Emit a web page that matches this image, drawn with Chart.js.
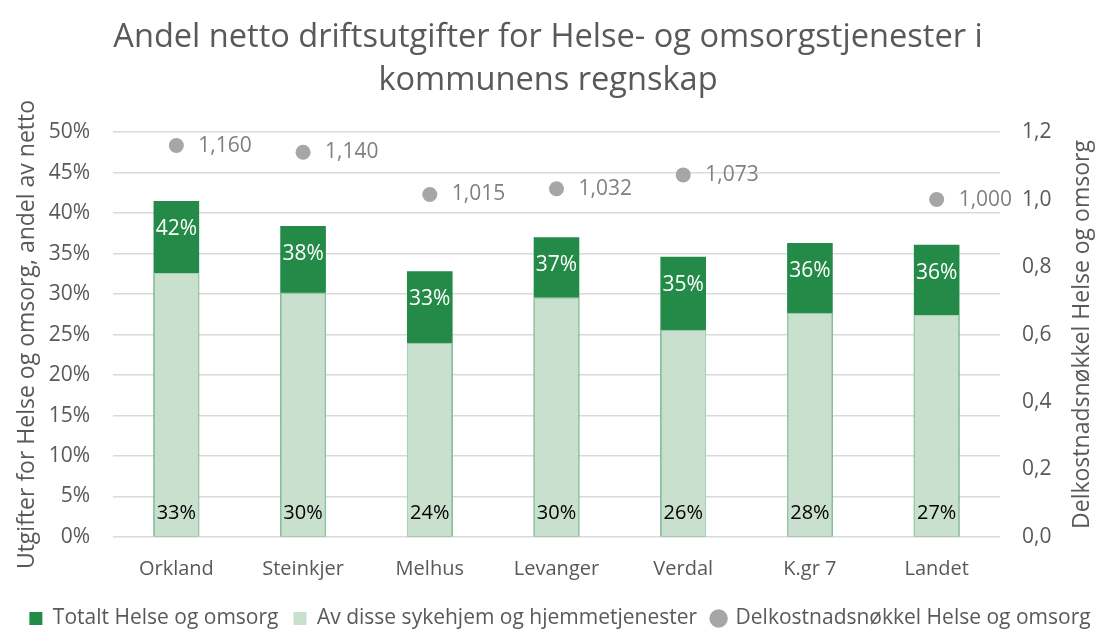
<!DOCTYPE html>
<html>
<head>
<meta charset="utf-8">
<script src="https://cdn.jsdelivr.net/npm/chart.js@4.4.0/dist/chart.umd.min.js"></script>
<style>
  html, body { margin: 0; padding: 0; background: #fff; }
  #wrap { width: 1096px; height: 630px; }
</style>
</head>
<body>
<div id="wrap"><canvas id="helseChart"></canvas></div>
<script>
// Data lest av fra figuren
const kommuner = ['Orkland', 'Steinkjer', 'Melhus', 'Levanger', 'Verdal', 'K.gr 7', 'Landet'];
const totaltHelse = [41.5, 38.4, 32.8, 37.0, 34.6, 36.3, 36.1];
const sykehjemHjemme = [32.6, 30.2, 24.0, 29.6, 25.6, 27.7, 27.4];
const delkostnadsnokkel = [1.160, 1.140, 1.015, 1.032, 1.073, null, 1.000];

const FONT = "'Open Sans', sans-serif";
const GRAA = '#595959';
const HOYRE_TITTEL = 'Delkostnadsnøkkel Helse og omsorg';

// Tegner dataetiketter (ingen datalabels-plugin tilgjengelig)
const verdiEtiketter = {
    id: 'verdiEtiketter',
    afterLayout(chart) {
        // Forklaringen står litt til høyre i originalen
        if (chart.legend) {
            chart.legend.left += 12;
            chart.legend.right += 12;
        }
    },
    afterDatasetsDraw(chart) {
        const ctx = chart.ctx;
        ctx.save();
        ctx.textBaseline = 'middle';

        // Totalt: hvit tekst innerst ved toppen
        ctx.font = '21px ' + FONT;
        ctx.fillStyle = '#ffffff';
        ctx.textAlign = 'center';
        chart.getDatasetMeta(0).data.forEach((bar, i) => {
            ctx.fillText(Math.round(totaltHelse[i]) + '%', bar.x, bar.y + 28);
        });

        // Sykehjem/hjemmetjenester: svart tekst ved basis
        ctx.font = '20px ' + FONT;
        ctx.fillStyle = '#000000';
        chart.getDatasetMeta(1).data.forEach((bar, i) => {
            ctx.fillText(Math.round(sykehjemHjemme[i]) + '%', bar.x, bar.base - 23);
        });

        // Delkostnadsnøkkel: grå tekst til høyre for punktet
        ctx.font = '21px ' + FONT;
        ctx.fillStyle = '#808080';
        ctx.textAlign = 'left';
        chart.getDatasetMeta(2).data.forEach((pt, i) => {
            if (delkostnadsnokkel[i] == null) return;
            ctx.fillText(delkostnadsnokkel[i].toFixed(3).replace('.', ','), pt.x + 22, pt.y);
        });

        // Høyre aksetittel, lest nedenfra og opp som i Excel
        const area = chart.chartArea;
        ctx.translate(1082, (area.top + area.bottom) / 2);
        ctx.rotate(-Math.PI / 2);
        ctx.font = '23px ' + FONT;
        ctx.fillStyle = GRAA;
        ctx.textAlign = 'center';
        ctx.fillText(HOYRE_TITTEL, 0, 0);
        ctx.restore();
    }
};

const standardLabels = Chart.defaults.plugins.legend.labels.generateLabels;

new Chart(document.getElementById('helseChart'), {
    type: 'bar',
    data: {
        labels: kommuner,
        datasets: [
            {
                label: 'Totalt Helse og omsorg',
                data: totaltHelse,
                backgroundColor: '#238a48',
                borderWidth: 0,
                grouped: false,
                barPercentage: 0.36,
                categoryPercentage: 1.0,
                order: 2
            },
            {
                label: 'Av disse sykehjem og hjemmetjenester',
                data: sykehjemHjemme,
                backgroundColor: '#c9e0cf',
                borderColor: '#a8d0b4',
                borderWidth: 1,
                grouped: false,
                barPercentage: 0.36,
                categoryPercentage: 1.0,
                order: 1
            },
            {
                type: 'line',
                label: HOYRE_TITTEL,
                data: delkostnadsnokkel,
                yAxisID: 'y1',
                showLine: false,
                backgroundColor: '#a6a6a6',
                borderColor: '#a6a6a6',
                pointRadius: 7.5,
                pointHoverRadius: 7.5,
                borderWidth: 0,
                order: 0
            }
        ]
    },
    options: {
        responsive: true,
        maintainAspectRatio: false,
        animation: false,
        layout: { padding: { left: 0, right: 0, top: 0, bottom: -9 } },
        plugins: {
            title: {
                display: true,
                text: ['Andel netto driftsutgifter for Helse- og omsorgstjenester i', 'kommunens regnskap'],
                color: GRAA,
                font: { family: FONT, size: 32.6, weight: 'normal', lineHeight: 1.32 },
                padding: { top: 16, bottom: 30 }
            },
            legend: {
                position: 'bottom',
                labels: {
                    color: GRAA,
                    font: { family: FONT, size: 21 },
                    usePointStyle: true,
                    boxWidth: 13,
                    boxHeight: 13,
                    padding: 15,
                    sort: (a, b) => a.datasetIndex - b.datasetIndex,
                    generateLabels(chart) {
                        const items = standardLabels(chart);
                        items.forEach(it => {
                            it.pointStyle = it.datasetIndex === 2 ? 'circle' : 'rect';
                            it.lineWidth = 0;
                        });
                        return items;
                    }
                }
            },
            tooltip: { enabled: false }
        },
        scales: {
            x: {
                grid: { display: false },
                border: { display: false },
                ticks: { color: GRAA, font: { family: FONT, size: 20 }, padding: 12 }
            },
            y: {
                position: 'left',
                min: 0,
                max: 50,
                afterFit(scale) { scale.width = 113; },
                ticks: {
                    stepSize: 5,
                    color: GRAA,
                    font: { family: FONT, size: 21 },
                    padding: 23,
                    callback: v => v + '%'
                },
                grid: { color: '#d9d9d9', lineWidth: 1.5, drawTicks: false },
                border: { display: false },
                title: {
                    display: true,
                    text: 'Utgifter for Helse og omsorg, andel av netto',
                    color: GRAA,
                    font: { family: FONT, size: 23 },
                    padding: { top: 14, bottom: 0 }
                }
            },
            y1: {
                position: 'right',
                min: 0,
                max: 1.2,
                afterFit(scale) { scale.width = 96; },
                ticks: {
                    stepSize: 0.2,
                    color: GRAA,
                    font: { family: FONT, size: 21 },
                    padding: 22,
                    callback: v => v.toFixed(1).replace('.', ',')
                },
                grid: { display: false, drawTicks: false },
                border: { display: false }
            }
        }
    },
    plugins: [verdiEtiketter]
});
</script>
</body>
</html>
